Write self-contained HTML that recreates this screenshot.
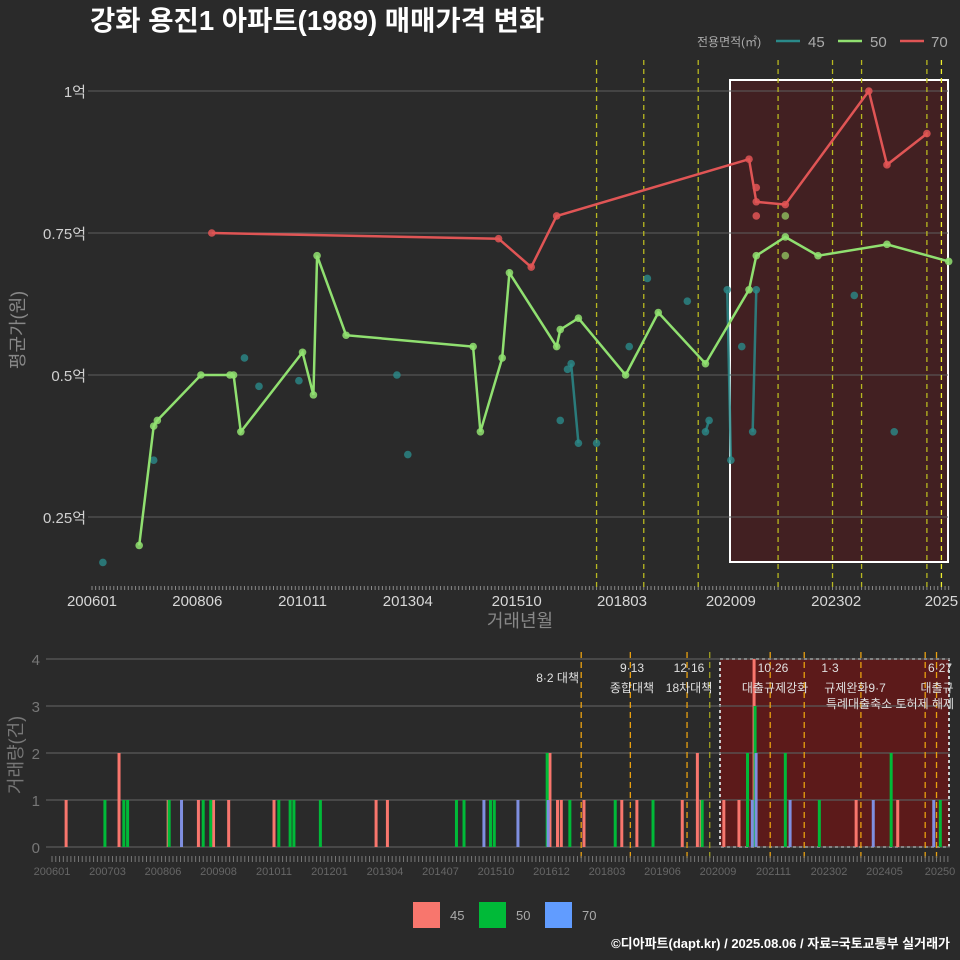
<!DOCTYPE html>
<html><head><meta charset="utf-8">
<style>
html,body{margin:0;padding:0;background:#2a2a2a;}
svg{display:block;font-family:"Liberation Sans","Noto Sans CJK KR",sans-serif;}
</style></head>
<body>
<svg id="chart" width="960" height="960" viewBox="0 0 960 960">
<rect x="0" y="0" width="960" height="960" fill="#2a2a2a"/>
<text x="90" y="30" fill="#ffffff" font-size="27.5" font-weight="bold">강화 용진1 아파트(1989) 매매가격 변화</text>
<g>
<text x="697" y="46" fill="#aaaaaa" font-size="12">전용면적(㎡)</text>
<line x1="776" y1="41" x2="800" y2="41" stroke="#2a8a8a" stroke-width="2.5"/>
<text x="808" y="47" fill="#aaaaaa" font-size="15">45</text>
<line x1="838" y1="41" x2="862" y2="41" stroke="#90e070" stroke-width="2.5"/>
<text x="870" y="47" fill="#aaaaaa" font-size="15">50</text>
<line x1="900" y1="41" x2="924" y2="41" stroke="#e05555" stroke-width="2.5"/>
<text x="931" y="47" fill="#aaaaaa" font-size="15">70</text>
</g>
<g id="topg"></g>
<g id="botg"></g>
<text transform="translate(24,330) rotate(-90)" text-anchor="middle" fill="#888888" font-size="18">평균가(원)</text>
<text x="520" y="627" text-anchor="middle" fill="#888888" font-size="18">거래년월</text>
<text transform="translate(22,755) rotate(-90)" text-anchor="middle" fill="#777777" font-size="18">거래량(건)</text>
<g>
<rect x="413" y="902" width="27" height="26" fill="#f8766d"/>
<text x="450" y="920" fill="#aaaaaa" font-size="13">45</text>
<rect x="479" y="902" width="27" height="26" fill="#00ba38"/>
<text x="516" y="920" fill="#aaaaaa" font-size="13">50</text>
<rect x="545" y="902" width="27" height="26" fill="#619cff"/>
<text x="582" y="920" fill="#aaaaaa" font-size="13">70</text>
</g>
<text x="950" y="948" text-anchor="end" fill="#ffffff" font-size="13" font-weight="bold">©디아파트(dapt.kr) / 2025.08.06 / 자료=국토교통부 실거래가</text>
</svg>
<script>
// ---------- data ----------
const greenMonths = ["200702","200706","200707","200807","200903","200904","200906","201011","201102","201103","201111","201410","201412","201506","201508","201609","201610","201703","201804","201901","202002","202102","202104","202112","202209","202404","202509"];
const greenValues = [0.20,0.41,0.42,0.50,0.50,0.50,0.40,0.54,0.465,0.71,0.57,0.55,0.40,0.53,0.68,0.55,0.58,0.60,0.50,0.61,0.52,0.65,0.71,0.743,0.71,0.73,0.70];
const greenExtraMonths = ["202112","202112"];
const greenExtraValues = [0.78,0.71];
const redMonths = ["200810","201505","201602","201609","202102","202104","202112","202311","202404","202503"];
const redValues = [0.75,0.74,0.69,0.78,0.88,0.805,0.80,1.0,0.87,0.925];
const redExtraMonths = ["202104","202104"];
const redExtraValues = [0.83,0.78];
const tealMonths = ["200604","200706","200907","200911","201010","201301","201304","201610","201612","201701","201703","201708","201805","201810","201909","202002","202003","202008","202009","202012","202103","202104","202307","202406"];
const tealValues = [0.17,0.35,0.53,0.48,0.49,0.50,0.36,0.42,0.51,0.52,0.38,0.38,0.55,0.67,0.63,0.40,0.42,0.65,0.35,0.55,0.40,0.65,0.64,0.40];
const tealLinkFrom = ["201701","202002","202008","202104"];
const tealLinkFromValues = [0.52,0.40,0.65,0.65];
const tealLinkTo = ["201703","202003","202009","202103"];
const tealLinkToValues = [0.38,0.42,0.35,0.40];
const topYTicks = [1,0.75,0.5,0.25];
const topYTickLabels = ["1억","0.75억","0.5억","0.25억"];
const topXTicks = ["200601","200806","201011","201304","201510","201803","202009","202302","202507"];
const topXTickLabels = ["200601","200806","201011","201304","201510","201803","202009","202302","2025"];
const policyMonthsTop = ["201708","201809","201912","202110","202301","202309","202503","202507"];

const volMonths45 = ["200605","200707","200808","200904","200908","200912","201012","201303","201306","201701","201703","201704","201710","201808","201812","201912","202004","202005","202011","202103","202107","202310","202409"];
const volCounts45 = [1,2,1,1,1,1,1,1,1,2,1,1,1,1,1,1,2,1,1,1,4,1,1];
const volMonths50 = ["200703","200708","200709","200808","200905","200907","201101","201104","201105","201112","201412","201502","201509","201510","201612","201706","201806","201904","202005","202105","202107","202203","202212","202407","202508"];
const volCounts50 = [1,1,1,1,1,1,1,1,1,1,1,1,1,1,2,1,1,1,1,2,3,2,1,2,1];
const volMonths70 = ["200811","201507","201604","201612","202106","202107","202204","202402","202506"];
const volCounts70 = [1,1,1,1,1,2,1,1,1];
const volYTicks = [0,1,2,3,4];
const botXTickLabels = ["200601","200703","200806","200908","201011","201201","201304","201407","201510","201612","201803","201906","202009","202111","202302","202405","20250"];
const policyMonthsBot = ["201709","201810","202001","202007","202111","202208","202311","202504","202507"];

// ---------- scales ----------
const NS="http://www.w3.org/2000/svg";
function mi(s){return (parseInt(s.slice(0,4))-2006)*12+parseInt(s.slice(4,6))-1;}
function tx(s){return 92+mi(s)*3.63;}
function ty(v){return 91+(1-v)*568;}
function bx(s){return 52+mi(s)*3.78;}
function by(c){return 847-c*47;}
function mk(tag,attrs,parent){const e=document.createElementNS(NS,tag);for(const k in attrs)e.setAttribute(k,attrs[k]);parent.appendChild(e);return e;}
const topG=document.getElementById('topg');
const botG=document.getElementById('botg');

let r=mk('rect',{x:730,y:80,width:218,height:482,fill:'rgba(95,20,25,0.45)',stroke:'#ffffff','stroke-width':2},topG);


topYTicks.forEach((v,i)=>{
  let l=mk('line',{x1:88,x2:948,y1:ty(v),y2:ty(v),stroke:'#5e5e5e','stroke-width':1},topG);
  
  
  let t=mk('text',{x:86,y:ty(v)+6,'text-anchor':'end',fill:'#d0d0d0','font-size':15},topG);
  t.textContent=topYTickLabels[i];
  
  
});
for(let m=0;m<=236;m++){
  let l=mk('line',{x1:92+m*3.63,x2:92+m*3.63,y1:586,y2:590,stroke:'#8a8a8a','stroke-width':1},topG);
  
  
}
topXTicks.forEach((s,i)=>{
  let t=mk('text',{x:tx(s),y:606,'text-anchor':'middle',fill:'#d8d8d8','font-size':15},topG);
  t.textContent=topXTickLabels[i];
  
  
});
policyMonthsTop.forEach((s,i)=>{
  let l=mk('line',{x1:tx(s),x2:tx(s),y1:60,y2:590,stroke:i===7?'#eeee30':'#b8b820','stroke-width':1.3,'stroke-dasharray':'5,4'},topG);
  
  
});
tealLinkFrom.forEach((s,i)=>{
  let l=mk('line',{x1:tx(s),y1:ty(tealLinkFromValues[i]),x2:tx(tealLinkTo[i]),y2:ty(tealLinkToValues[i]),stroke:'#2a8a8a','stroke-width':2.5,'stroke-opacity':0.85},topG);
  
  
});
tealMonths.forEach((s,i)=>{
  let c=mk('circle',{cx:tx(s),cy:ty(tealValues[i]),r:3.8,fill:'#2a8a8a','fill-opacity':0.8},topG);
  
  
});
function series(months,vals,color,name){
  let d=months.map((s,i)=>(i?'L':'M')+tx(s).toFixed(1)+','+ty(vals[i]).toFixed(1)).join(' ');
  let p=mk('path',{d:d,fill:'none',stroke:color,'stroke-width':2.5},topG);
  
  
  months.forEach((s,i)=>{
    let c=mk('circle',{cx:tx(s),cy:ty(vals[i]),r:3.8,fill:color,'fill-opacity':0.85},topG);
    
    
  });
}
series(greenMonths,greenValues,'#90e070','50');
greenExtraMonths.forEach((s,i)=>{
  let c=mk('circle',{cx:tx(s),cy:ty(greenExtraValues[i]),r:3.8,fill:'#90c060','fill-opacity':0.8},topG);
  
  
});
series(redMonths,redValues,'#e05555','70');
redExtraMonths.forEach((s,i)=>{
  let c=mk('circle',{cx:tx(s),cy:ty(redExtraValues[i]),r:3.8,fill:'#e05555','fill-opacity':0.85},topG);
  
  
});

// ---------- bottom ----------
let rb=mk('rect',{x:720,y:659,width:229,height:188,fill:'rgba(110,22,22,0.75)',stroke:'#cccccc','stroke-width':2,'stroke-dasharray':'3,3'},botG);


volYTicks.forEach(v=>{
  let l=mk('line',{x1:46,x2:950,y1:by(v),y2:by(v),stroke:'#5a5a5a','stroke-width':1.2},botG);
  
  
  let t=mk('text',{x:40,y:by(v)+6,'text-anchor':'end',fill:'#777777','font-size':15},botG);
  t.textContent=v;
  
  
});
function bars(months,counts,color,off,name){
  months.forEach((s,i)=>{
    let b=mk('rect',{x:bx(s)-1.5+off,y:by(counts[i]),width:3,height:counts[i]*47,fill:color},botG);
    
    
  });
}
bars(volMonths45,volCounts45,'#f8766d',-1,'45');
bars(volMonths50,volCounts50,'#00ba38',0,'50');
bars(volMonths70,volCounts70,'#7f8fe0',1,'70');
policyMonthsBot.forEach((s,i)=>{
  let l=mk('line',{x1:bx(s),x2:bx(s),y1:652,y2:858,stroke:i===3?'#a0a020':'#e8a010','stroke-width':1.3,'stroke-dasharray':'6,4'},botG);
  
  
});
for(let m=0;m<=237;m++){
  let l=mk('line',{x1:52+m*3.78,x2:52+m*3.78,y1:856,y2:862,stroke:'#777777','stroke-width':1},botG);
  
  
}
botXTickLabels.forEach((s,i)=>{
  let t=mk('text',{x:52+i*55.5,y:875,'text-anchor':'middle',fill:'#666666','font-size':11},botG);
  t.textContent=s;
  
  
});
const notes=[[579,682,'end','8·2 대책'],[632,672,'middle','9·13'],[632,692,'middle','종합대책'],[689,672,'middle','12·16'],[689,692,'middle','18차대책'],[773,672,'middle','10·26'],[775,692,'middle','대출규제강화'],[830,672,'middle','1·3'],[855,692,'middle','규제완화9·7'],[890,708,'middle','특례대출축소 토허제 해제'],[940,672,'middle','6·27'],[937,692,'middle','대출규']];
notes.forEach(n=>{
  let t=mk('text',{x:n[0],y:n[1],'text-anchor':n[2],fill:'#e0e0e0','font-size':12},botG);
  t.textContent=n[3];
  
  
});
</script>
</body></html>
